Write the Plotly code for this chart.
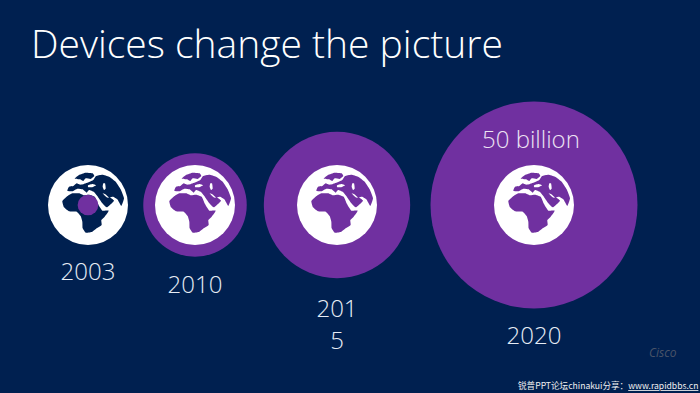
import plotly.graph_objects as go

# ---- data ----
years = ["2003", "2010", "2015", "2020"]
year_labels = ["2003", "2010", "201<br>5", "2020"]
devices_billion = [0.5, 12.5, 25, 50]

# ---- layout ----
W, H = 700, 393
NAVY = "#002050"
PURPLE = "#7030A0"
WHITE = "#FFFFFF"
FONT = "Open Sans"
centre_x = [88, 195, 337, 534]
centre_y = 205
label_y = [274, 287, 327, 338]
GLOBE_D = 80
SIZEREF = 2 * 50 / 207 ** 2


def icon(points):
    """Icon outlines were traced at 3x, relative to a globe centre at (162, 105)."""
    return [((x - 162) / 3, (y - 105) / 3) for x, y in points]


AFRICA = icon([(85, 93), (98, 80), (115, 70), (135, 70), (150, 76), (165, 74), (182, 80),
               (192, 102), (205, 122), (224, 122), (212, 140), (202, 150), (203, 165),
               (188, 175), (175, 185), (155, 188), (146, 175), (145, 155), (140, 138),
               (128, 125), (105, 124), (90, 112)])
EURASIA = icon([(100, 62), (105, 50), (118, 48), (128, 40), (138, 44), (150, 42), (165, 36),
                (178, 30), (186, 18), (205, 14), (225, 20), (245, 35), (260, 58), (270, 85),
                (262, 108), (250, 88), (238, 80), (228, 82), (240, 92), (218, 112), (205, 100),
                (190, 78), (180, 66), (165, 60), (158, 68), (146, 58), (130, 56), (115, 64)])
SCANDINAVIA = icon([(122, 26), (135, 15), (155, 8), (176, 10), (181, 18), (170, 27), (155, 25),
                    (148, 33), (138, 28)])
BLACK_SEA = icon([(162, 46), (176, 42), (186, 46), (174, 52), (162, 51)])
CASPIAN = icon([(208, 40), (213, 40), (215, 56), (210, 60), (206, 50)])
GULF = icon([(206, 70), (216, 74), (226, 84), (218, 82)])

fig = go.Figure()


def bubble(i):
    fig.add_trace(go.Scatter(
        x=[centre_x[i]], y=[centre_y], mode="markers", name=years[i], hoverinfo="name",
        marker=dict(size=[devices_billion[i]], sizemode="area", sizeref=SIZEREF,
                    color=PURPLE, opacity=1, line=dict(width=0))))


def outline(points, cx, colour):
    xs = [cx + p[0] for p in points] + [cx + points[0][0]]
    ys = [centre_y + p[1] for p in points] + [centre_y + points[0][1]]
    fig.add_trace(go.Scatter(x=xs, y=ys, mode="lines", fill="toself", fillcolor=colour,
                             line=dict(width=0, color=colour), hoverinfo="skip",
                             line_shape="spline", line_smoothing=0.4))


for i in (3, 2, 1):
    bubble(i)

fig.add_trace(go.Scatter(x=centre_x, y=[centre_y] * 4, mode="markers", hoverinfo="skip",
                         marker=dict(size=GLOBE_D, color=WHITE, opacity=1, line=dict(width=0))))

for i, cx in enumerate(centre_x):
    land = NAVY if i == 0 else PURPLE
    outline(AFRICA, cx, land)
    outline(EURASIA, cx, land)
    outline(SCANDINAVIA, cx, land)
    outline(BLACK_SEA, cx, WHITE)
    outline(CASPIAN, cx, WHITE)
    outline(GULF, cx, WHITE)

bubble(0)

fig.add_trace(go.Scatter(
    x=centre_x, y=label_y, mode="text", text=year_labels, hoverinfo="skip",
    textposition="middle center",
    textfont=dict(family=FONT, size=24, color="#E6ECF5", weight=300)))

annotations = [
    dict(x=30, y=42, text="Devices change the picture", xanchor="left", yanchor="middle",
         font=dict(family=FONT, size=39, color=WHITE, weight=300)),
    dict(x=531, y=138, text="50 billion", xanchor="center", yanchor="middle",
         font=dict(family=FONT, size=24, color="#EDE3F3", weight=300)),
    dict(x=663, y=352, text="<i>Cisco</i>", xanchor="center", yanchor="middle",
         font=dict(family=FONT, size=12, color="#4A5468")),
    dict(x=699, y=385, xanchor="right", yanchor="middle",
         text="锐普PPT论坛chinakui分享：<u>www.rapidbbs.cn</u>",
         font=dict(family="Noto Sans CJK SC", size=8.6, color="#F0F0F0")),
]
for a in annotations:
    a.update(xref="x", yref="y", showarrow=False, borderpad=0)

fig.update_layout(
    width=W, height=H, margin=dict(l=0, r=0, t=0, b=0), showlegend=False,
    paper_bgcolor=NAVY, plot_bgcolor=NAVY, annotations=annotations,
    xaxis=dict(range=[0, W], visible=False, fixedrange=True),
    yaxis=dict(range=[H, 0], visible=False, fixedrange=True),
)
fig.write_html("out.html", config=dict(displayModeBar=False),
               post_script="document.body.style.margin='0';document.body.style.overflow='hidden';")
